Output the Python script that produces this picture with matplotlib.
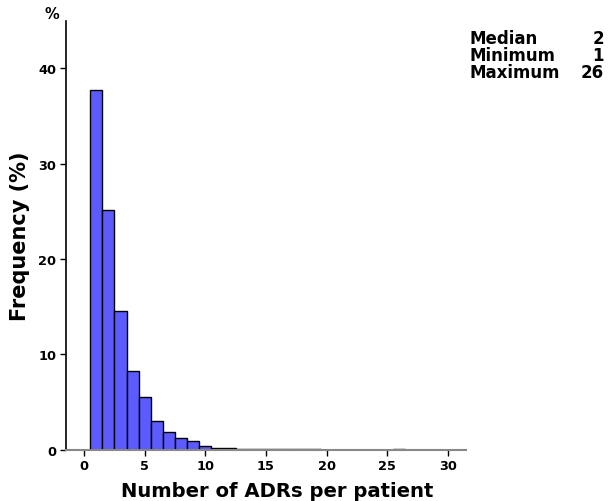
import matplotlib
matplotlib.use("Agg")
import matplotlib.pyplot as plt

plt.rcParams['font.family'] = ['DejaVu Sans']

adrs = list(range(1, 27))
freq = [37.7, 25.1, 14.6, 8.26, 5.49, 3.05, 1.88, 1.25, 0.87, 0.35,
        0.2, 0.15, 0.1, 0.03, 0.03, 0.08, 0.03, 0.03, 0.03, 0.0,
        0.0, 0.0, 0.0, 0.0, 0.0, 0.03]
xticks = [0, 5, 10, 15, 20, 25, 30]
yticks = [0, 10, 20, 30, 40]
stats_labels = ["Median", "Minimum", "Maximum"]
stats_values = ["2", "1", "26"]

fig = plt.figure(figsize=(6.12, 5.02), dpi=100)
ax = fig.add_axes([66/612, 1-450.7/502, 400/612, (450.7-21.7)/502])

ax.bar(adrs, freq, width=1.0, color='#5B5BFF', edgecolor='black', linewidth=1.0)
ax.set_xlim(-1.5, 31.5)
ax.set_ylim(0, 45)
ax.set_xticks(xticks)
ax.set_yticks(yticks)
ax.set_xticklabels([str(t) for t in xticks], fontsize=9.3, fontweight='bold')
ax.set_yticklabels([str(t) for t in yticks], fontsize=9.3, fontweight='bold')
ax.spines['top'].set_visible(False)
ax.spines['right'].set_visible(False)
ax.spines['bottom'].set_color('#888888')
ax.spines['bottom'].set_linewidth(1.5)
ax.spines['left'].set_linewidth(1.2)
ax.tick_params(axis='both', direction='out', length=4, width=1.0, pad=3)
ax.set_xlabel("Number of ADRs per patient", fontsize=14.1, fontweight='bold')
ax.xaxis.set_label_coords(0.528, -0.072)
ax.set_ylabel("Frequency (%)", fontsize=15, fontweight='bold', labelpad=6)
ax.text(-0.018, 1.0, "%", transform=ax.transAxes, fontsize=10.5, fontweight='bold',
        ha='right', va='bottom')

for i, (lab, val) in enumerate(zip(stats_labels, stats_values)):
    y = 39 + i * 17
    fig.text(469/612, 1 - y/502, lab, fontsize=12, fontweight='bold', ha='left', va='center')
    fig.text(604/612, 1 - y/502, val, fontsize=12, fontweight='bold', ha='right', va='center')

fig.savefig("out.png", dpi=100)
